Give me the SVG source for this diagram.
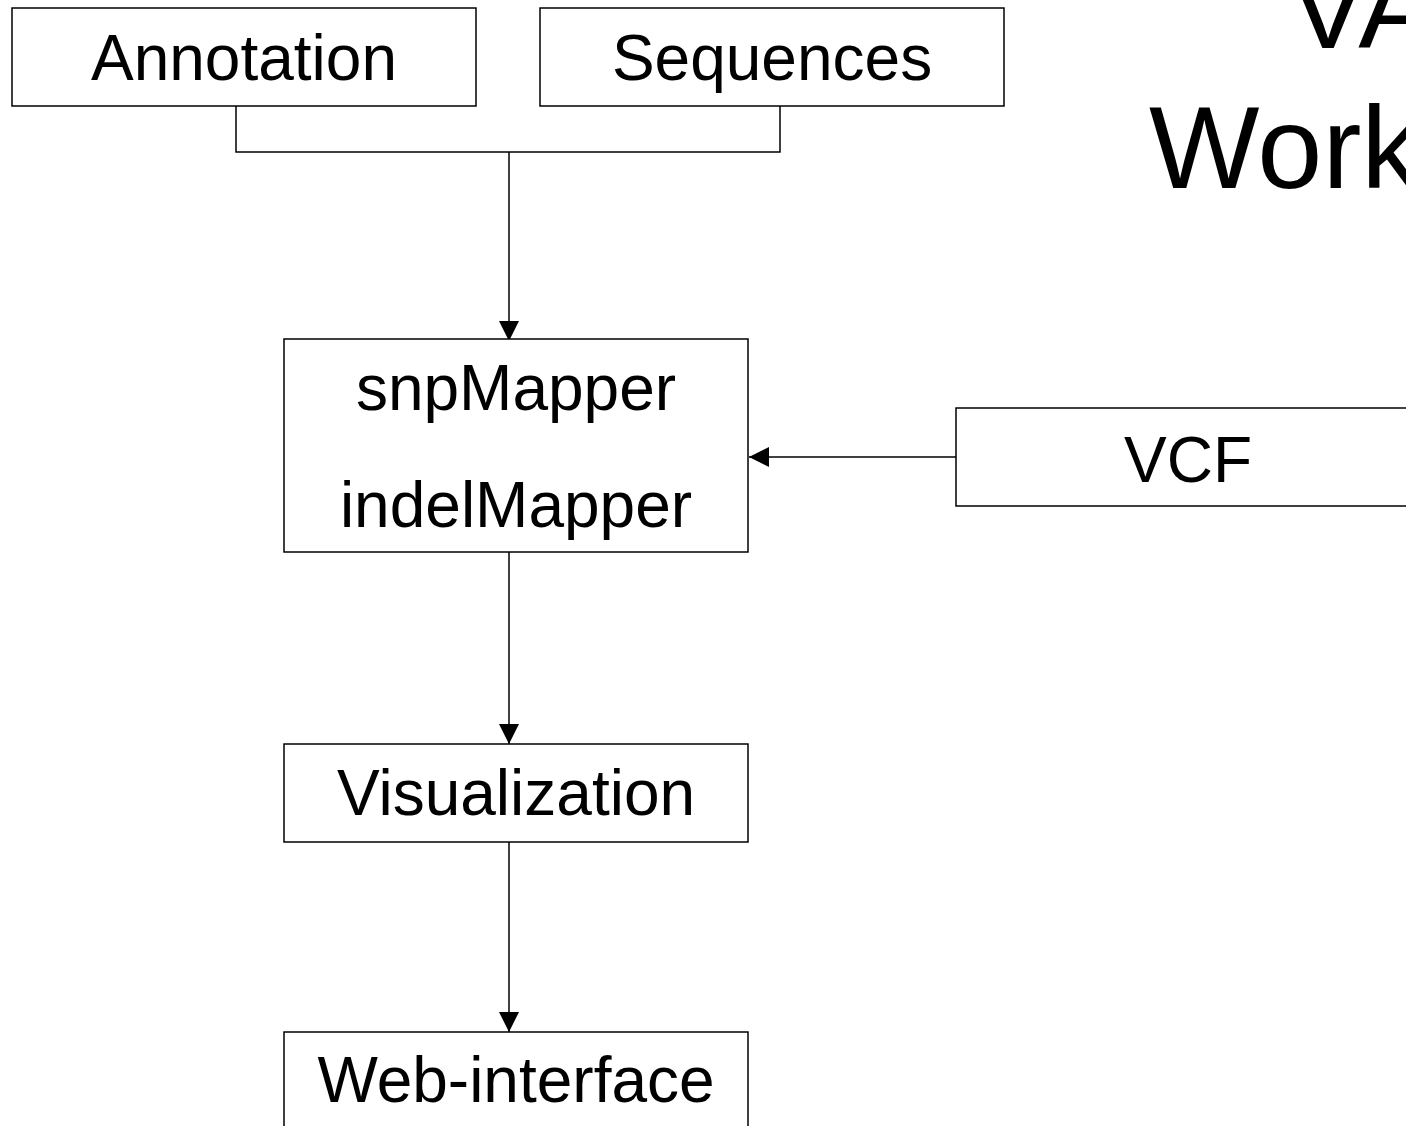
<svg xmlns="http://www.w3.org/2000/svg" width="1406" height="1126" viewBox="0 0 1406 1126">
<style>
.box{fill:#fff;stroke:#000;stroke-width:1.5}
.lbl{font-family:"Liberation Sans",Arial,sans-serif;font-size:64px;fill:#000;text-anchor:middle}
.title{font-family:"Liberation Sans",Arial,sans-serif;font-size:117px;fill:#000}
.conn{fill:none;stroke:#000;stroke-width:1.5}
</style>
<defs>
<marker id="arr" viewBox="0 0 20 20" refX="20" refY="10" markerWidth="20" markerHeight="20" markerUnits="userSpaceOnUse" orient="auto">
<path d="M0,0 L20,10 L0,20 Z" fill="#000"/>
</marker>
</defs>
<rect width="1406" height="1126" fill="#fff"/>
<g id="title">
<text class="title" x="1289" y="48">VA</text>
<text class="title" x="1149" y="188">Work</text>
</g>
<g id="connectors">
<polyline class="conn" points="236,106 236,152 780,152 780,106"/>
<line class="conn" x1="509" y1="152" x2="509" y2="341" marker-end="url(#arr)"/>
<line class="conn" x1="956" y1="457" x2="749" y2="457" marker-end="url(#arr)"/>
<line class="conn" x1="509" y1="552" x2="509" y2="744" marker-end="url(#arr)"/>
<line class="conn" x1="509" y1="842" x2="509" y2="1032" marker-end="url(#arr)"/>
</g>
<g id="annotation">
<rect class="box" x="12" y="8" width="464" height="98"/>
<text class="lbl" x="244" y="80">Annotation</text>
</g>
<g id="sequences">
<rect class="box" x="540" y="8" width="464" height="98"/>
<text class="lbl" x="772" y="80">Sequences</text>
</g>
<g id="mapper">
<rect class="box" x="284" y="339" width="464" height="213"/>
<text class="lbl" x="516" y="410">snpMapper</text>
<text class="lbl" x="516" y="527">indelMapper</text>
</g>
<g id="vcf">
<rect class="box" x="956" y="408" width="500" height="98"/>
<text class="lbl" x="1188" y="482">VCF</text>
</g>
<g id="visualization">
<rect class="box" x="284" y="744" width="464" height="98"/>
<text class="lbl" x="516" y="815">Visualization</text>
</g>
<g id="webinterface">
<rect class="box" x="284" y="1032" width="464" height="120"/>
<text class="lbl" x="516" y="1102">Web-interface</text>
</g>
</svg>
